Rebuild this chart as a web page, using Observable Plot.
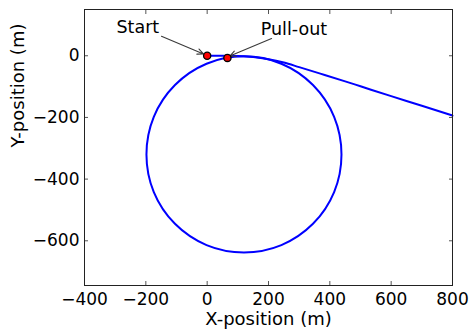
<!DOCTYPE html>
<html>
<head>
<meta charset="utf-8">
<script src="https://cdn.jsdelivr.net/npm/d3@7"></script>
<script src="https://cdn.jsdelivr.net/npm/@observablehq/plot@0.6"></script>
<style>
  html, body { margin: 0; padding: 0; background: #fff; }
  svg { display: block; }
</style>
</head>
<body>
<div id="chart"></div>
<script>
// Trajectory after pull-out (gentle glide)
const pathX = [0, 50, 100, 150, 200, 250, 300, 369, 450, 500, 600, 700, 800];
const pathY = [0, 0, -1, -4, -11, -22, -37, -58, -83, -99, -131, -162, -194];

// Loop (closed curve)
const loopX = [438, 414, 345, 242, 120, -2, -105, -174, -198, -174, -105, -2, 120, 242, 345, 414];
const loopY = [-320, -198, -95, -26, -2, -26, -95, -198, -320, -442, -545, -614, -638, -614, -545, -442];

// Marked points
const markNames = ["Start", "Pull-out"];
const markX = [0, 66];
const markY = [0, -7];

// Annotation text and arrow tails (data coords)
const annTextX = [-226, 283];
const annTextY = [92, 86];
const annTailX = [-149, 210];
const annTailY = [63, 56];
const annHeadX = [-12, 74];
const annHeadY = [6, -1];

const xTicks = [-400, -200, 0, 200, 400, 600, 800];
const yTicks = [-600, -400, -200, 0];

const path = pathX.map((x, i) => ({x, y: pathY[i]}));
const loop = loopX.map((x, i) => ({x, y: loopY[i]}));
const marks = markNames.map((n, i) => ({n, x: markX[i], y: markY[i]}));
const anns = markNames.map((n, i) => ({
  n, tx: annTextX[i], ty: annTextY[i],
  x1: annTailX[i], y1: annTailY[i], x2: annHeadX[i], y2: annHeadY[i]
}));

const fmt = d3.format("d");
const font = "DejaVu Sans, sans-serif";

const chart = Plot.plot({
  width: 470,
  height: 329,
  marginLeft: 84,
  marginRight: 18,
  marginTop: 9,
  marginBottom: 44,
  style: {fontFamily: font, fontSize: "17px", color: "#000", background: "#fff"},
  x: {domain: [-400, 800], ticks: xTicks},
  y: {domain: [-745, 150], ticks: yTicks},
  marks: [
    Plot.line(loop, {x: "x", y: "y", curve: "catmull-rom-closed", stroke: "#0000ff", strokeWidth: 2}),
    Plot.line(path, {x: "x", y: "y", curve: "monotone-x", stroke: "#0000ff", strokeWidth: 2}),
    Plot.arrow(anns, {x1: "x1", y1: "y1", x2: "x2", y2: "y2", stroke: "#3a3a3a", strokeWidth: 1.1, headLength: 9, headAngle: 50}),
    Plot.dot(marks, {x: "x", y: "y", r: 3.6, fill: "#ff0000", stroke: "#000", strokeWidth: 1.3}),
    Plot.text(anns, {x: "tx", y: "ty", text: "n", fontSize: 17.5, fill: "#000"}),
    Plot.axisX({anchor: "bottom", ticks: xTicks, tickSize: -4, tickPadding: 11, tickFormat: fmt, fontSize: 17, label: null, stroke: "#555"}),
    Plot.axisX({anchor: "top", ticks: xTicks, tickSize: -4, tickFormat: () => "", label: null, stroke: "#555"}),
    Plot.axisY({anchor: "left", ticks: yTicks, tickSize: -4, tickPadding: 9, tickFormat: fmt, fontSize: 17, label: null, stroke: "#555"}),
    Plot.axisY({anchor: "right", ticks: yTicks, tickSize: -4, tickFormat: () => "", label: null, stroke: "#555"}),
    Plot.frame({stroke: "#222", strokeWidth: 1}),
    Plot.text(["X-position (m)"], {frameAnchor: "bottom", dy: 39, lineAnchor: "bottom", fontSize: 18, fill: "#000"}),
    Plot.text(["Y-position (m)"], {frameAnchor: "left", dx: -66, rotate: -90, fontSize: 18, fill: "#000"})
  ]
});
document.getElementById("chart").appendChild(chart);
</script>
</body>
</html>
